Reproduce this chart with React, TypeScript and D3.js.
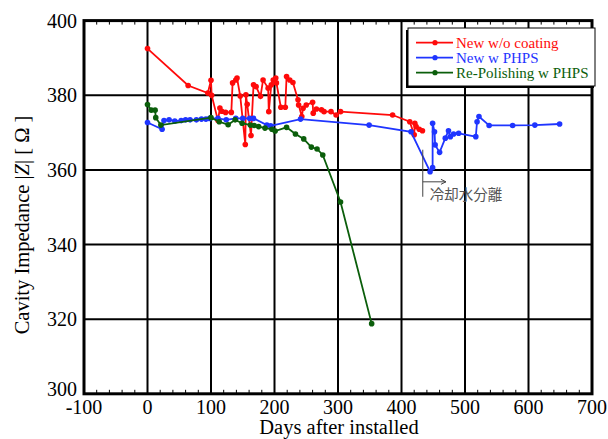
import React from "react";
import * as d3 from "d3";

// New w/o coating
const redDays = [0, 64, 95, 100, 101, 111, 114, 117, 123, 132, 134, 139, 141, 146, 154, 155, 157, 163, 167, 171, 178, 182, 190, 191, 195, 198, 202, 203, 210, 217, 219, 224, 229, 237, 238, 243, 245, 250, 260, 261, 266, 274, 278, 289, 297, 304, 386, 413, 420, 421, 423, 428, 433];
const redZ = [392.5, 382.6, 380.6, 384, 380, 373.2, 376.6, 375.7, 375.4, 375.4, 383.3, 384.1, 384.6, 379.8, 366.8, 380.1, 377.6, 369.2, 382.8, 382.3, 379.7, 384.1, 381.9, 375.6, 382.8, 384.1, 384.6, 383.3, 376.8, 376.8, 385, 384.1, 383.4, 378.8, 377.4, 374.3, 376.5, 377.4, 378.1, 375.2, 376.3, 376.1, 375.6, 375.6, 374.7, 375.6, 374.7, 372.9, 369.4, 372.5, 371.6, 370.9, 370.5];

// New w PHPS
const blueDays = [0, 23, 26, 34, 43, 53, 60, 67, 77, 85, 92, 98, 111, 124, 139, 150, 161, 167, 188, 194, 241, 349, 415, 445, 449, 449, 452, 453, 460, 469, 474, 477, 482, 490, 517, 519, 522, 538, 575, 610, 649];
const blueZ = [372.7, 370.9, 373.2, 373.4, 373.1, 373.2, 373.4, 373.4, 373.4, 373.6, 373.6, 373.8, 373.8, 373.4, 373.8, 373.8, 373.8, 373.8, 372.0, 371.8, 373.6, 372.0, 370.2, 359.5, 360.6, 372.5, 370.2, 366.7, 364.7, 368.5, 370.5, 368.9, 369.6, 369.8, 368.9, 372.9, 374.3, 371.9, 371.9, 372.0, 372.3];

// Re-Polishing w PHPS
const greenDays = [0, 6, 12, 13, 21, 100, 113, 127, 138, 149, 162, 168, 175, 185, 196, 201, 219, 233, 246, 258, 267, 276, 304, 353];
const greenZ = [377.5, 376, 376, 374, 372, 374, 372.9, 372.1, 373.4, 372.5, 372, 371.9, 371.6, 371.2, 370.9, 370.4, 371.4, 369.6, 368.3, 366.1, 365.6, 364, 351.4, 318.8];

const xTicks = [-100, 0, 100, 200, 300, 400, 500, 600, 700];
const yTicks = [300, 320, 340, 360, 380, 400];
const seriesNames = ["New w/o coating", "New w PHPS", "Re-Polishing w PHPS"];
const seriesColors = ["#ff0a0a", "#1f35ff", "#0b5e0b"];

const W = 608, H = 439;
const m = { left: 84, right: 592, top: 20.6, bottom: 393.8 };

export default function App() {
  const x = d3.scaleLinear().domain([-100, 700]).range([m.left, m.right]);
  const y = d3.scaleLinear().domain([300, 400]).range([m.bottom, m.top]);
  const minorX = d3.range(-100, 701, 20).filter((v) => v % 100 !== 0);

  const series = [
    { name: seriesNames[0], color: seriesColors[0], pts: redDays.map((d, i) => [d, redZ[i]] as [number, number]) },
    { name: seriesNames[1], color: seriesColors[1], pts: blueDays.map((d, i) => [d, blueZ[i]] as [number, number]) },
    { name: seriesNames[2], color: seriesColors[2], pts: greenDays.map((d, i) => [d, greenZ[i]] as [number, number]) },
  ];
  const line = d3.line<[number, number]>().x((d) => x(d[0])).y((d) => y(d[1]));

  const serif = "'Liberation Serif', 'Times New Roman', serif";
  const ax = x(433.5);

  return (
    <svg width={W} height={H} style={{ position: "absolute", left: 0, top: 0, background: "#fff" }} fontFamily={serif}>
      {/* grid */}
      {xTicks.slice(1, -1).map((t) => (
        <line key={"gx" + t} x1={x(t)} x2={x(t)} y1={m.top} y2={m.bottom} stroke="#000" strokeWidth={2} />
      ))}
      {yTicks.slice(1, -1).map((t) => (
        <line key={"gy" + t} x1={m.left} x2={m.right} y1={y(t)} y2={y(t)} stroke="#000" strokeWidth={2} />
      ))}
      {minorX.map((t) => (
        <g key={"mx" + t}>
          <line x1={x(t)} x2={x(t)} y1={m.bottom} y2={m.bottom - 4} stroke="#000" strokeWidth={1} />
          <line x1={x(t)} x2={x(t)} y1={m.top} y2={m.top + 4} stroke="#000" strokeWidth={1} />
        </g>
      ))}
      <rect x={m.left} y={m.top} width={m.right - m.left} height={m.bottom - m.top} fill="none" stroke="#000" strokeWidth={3} />

      {/* tick labels */}
      {xTicks.map((t) => (
        <text key={"tx" + t} x={x(t)} y={414} fontSize={20} textAnchor="middle">{t}</text>
      ))}
      {yTicks.map((t) => (
        <text key={"ty" + t} x={77} y={y(t) + (t === 300 ? 2 : 7)} fontSize={20} textAnchor="end">{t}</text>
      ))}
      <text x={(m.left + m.right) / 2 + 1} y={434} fontSize={20.5} textAnchor="middle">Days after installed</text>
      <text transform={`translate(29,225) rotate(-90)`} fontSize={20.5} textAnchor="middle">
        Cavity Impedance |<tspan fontStyle="italic">Z</tspan>| [ Ω ]
      </text>

      {/* series */}
      {series.map((s) => (
        <g key={s.name}>
          <path d={line(s.pts) || ""} fill="none" stroke={s.color} strokeWidth={1.8} />
          {s.pts.map((p, i) => (
            <circle key={i} cx={x(p[0])} cy={y(p[1])} r={2.8} fill={s.color} />
          ))}
        </g>
      ))}

      {/* annotation */}
      <g stroke="#444" strokeWidth={1} fill="none">
        <line x1={ax} x2={ax} y1={y(365.4)} y2={y(352.8)} />
        <line x1={ax} x2={x(470)} y1={y(356.8)} y2={y(356.8)} />
        <path d={`M${x(470) - 5},${y(356.8) - 2.5} L${x(470)},${y(356.8)} L${x(470) - 5},${y(356.8) + 2.5}`} />
      </g>
      <text x={ax + 7} y={y(351.8)} fontSize={14.5} fill="#555" fontFamily="'Noto Sans CJK JP', sans-serif">冷却水分離</text>

      {/* legend */}
      <rect x={406} y={30} width={188} height={58} fill="#000" />
      <rect x={408} y={28} width={187} height={58} fill="#fff" stroke="#000" strokeWidth={1} />
      {series.map((s, i) => (
        <g key={"lg" + i} transform={`translate(0,${42.7 + i * 15})`}>
          <line x1={416} x2={453} y1={0} y2={0} stroke={s.color} strokeWidth={1.8} />
          <circle cx={435} cy={0} r={2.6} fill={s.color} />
          <text x={456} y={5} fontSize={15} fill={s.color}>{s.name}</text>
        </g>
      ))}
    </svg>
  );
}
